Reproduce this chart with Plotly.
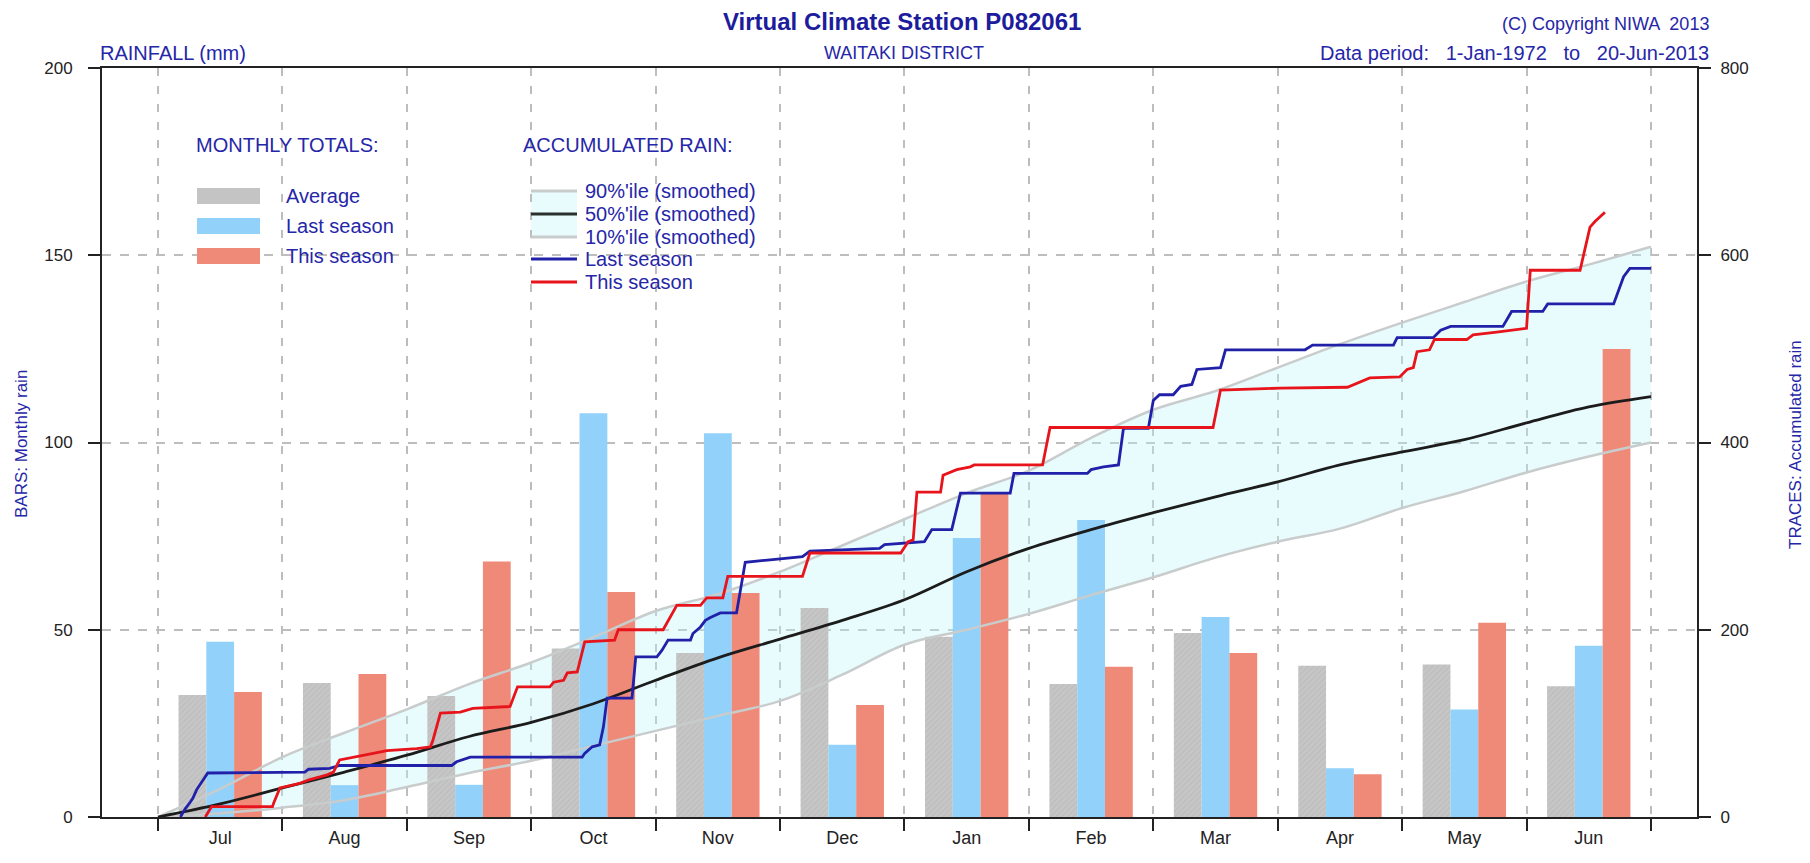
import plotly.graph_objects as go

# ---- monthly totals (mm), season runs July -> June ----
months = ["Jul", "Aug", "Sep", "Oct", "Nov", "Dec", "Jan", "Feb", "Mar", "Apr", "May", "Jun"]
avg_monthly = [32.6, 35.8, 32.3, 45.0, 43.8, 55.8, 48.1, 35.5, 49.1, 40.4, 40.7, 34.9]
last_monthly = [46.8, 8.5, 8.6, 107.8, 102.5, 19.3, 74.5, 79.3, 53.4, 13.0, 28.7, 45.7]
this_monthly = [33.4, 38.2, 68.2, 60.1, 59.8, 29.9, 86.5, 40.1, 43.8, 11.4, 51.9, 125.0]

# ---- smoothed percentiles of accumulated rain (mm), time in months since 1 July ----
pct_t = [0, 0.5, 1, 1.5, 2, 2.5, 3, 3.5, 4, 4.5, 5, 5.5, 6, 6.5, 7, 7.5, 8, 8.5, 9, 9.5, 10, 10.5, 11, 11.5, 12]
p10 = [0, 4, 10, 18, 32, 47, 60, 76, 92, 108, 124, 152, 184, 200, 217, 237, 256, 277, 294, 308, 330, 348, 368, 385, 400]
p50 = [0, 14, 31, 48, 66, 86, 101, 121, 146, 170, 190, 210, 232, 262, 287, 307, 325, 342, 358, 376, 390, 403, 421, 438, 449]
p90 = [0, 30, 64, 90, 115, 142, 165, 192, 220, 238, 262, 290, 318, 346, 370, 405, 435, 455, 480, 505, 528, 550, 572, 590, 609]

# ---- accumulated rain, last season ----
last_t = [0.18, 0.22, 0.26, 0.28, 0.31, 0.35, 0.40, 1.18, 1.21, 1.38, 1.46, 2.36, 2.40, 2.51,
          3.41, 3.43, 3.49, 3.55, 3.58, 3.61, 3.81, 3.84, 4.01, 4.05, 4.10, 4.28, 4.30, 4.36,
          4.40, 4.44, 4.52, 4.65, 4.72, 4.94, 5.18, 5.24, 5.80, 5.84, 6.16, 6.22, 6.38, 6.45,
          6.85, 6.88, 7.47, 7.50, 7.60, 7.72, 7.76, 7.96, 8.00, 8.05, 8.16, 8.22, 8.31, 8.35,
          8.54, 8.58, 9.22, 9.28, 9.93, 9.96, 10.25, 10.31, 10.39, 10.81, 10.88, 11.13, 11.17,
          11.70, 11.78, 11.83, 12.0]
last_acc = [0, 9, 16, 20, 29, 37, 47, 48, 51, 52, 55, 55, 59, 64,
            64, 68, 75, 77, 96, 127, 127, 171, 171, 178, 189, 189, 196, 203,
            210, 213, 218, 218, 272, 275, 278, 284, 287, 291, 294, 307, 307, 346,
            346, 367, 367, 371, 374, 376, 415, 415, 445, 451, 451, 460, 462, 478,
            480, 499, 499, 504, 504, 512, 512, 520, 524, 524, 540, 540, 548,
            548, 577, 586, 586]

# ---- accumulated rain, this season (to 20 June) ----
this_t = [0.38, 0.43, 0.92, 0.93, 0.98, 1.14, 1.22, 1.36, 1.41, 1.46, 1.73, 1.84, 2.08, 2.19,
          2.21, 2.27, 2.43, 2.53, 2.83, 2.89, 3.15, 3.18, 3.26, 3.29, 3.37, 3.43, 3.67, 3.70,
          4.06, 4.17, 4.36, 4.41, 4.54, 4.58, 5.18, 5.24, 5.97, 6.03, 6.07, 6.10, 6.29, 6.31,
          6.42, 6.53, 6.56, 7.11, 7.17, 8.48, 8.54, 9.02, 9.56, 9.66, 9.74, 9.98, 10.04, 10.09,
          10.12, 10.22, 10.26, 10.52, 10.57, 10.76, 11.00, 11.03, 11.43, 11.51, 11.55, 11.63]
this_acc = [0, 11, 11, 15, 31, 36, 40, 45, 48, 61, 68, 71, 73, 75,
            82, 111, 112, 116, 118, 139, 139, 144, 146, 154, 155, 187, 189, 200,
            200, 226, 226, 234, 234, 257, 257, 282, 282, 294, 296, 347, 347, 365,
            371, 374, 376, 376, 416, 416, 456, 458, 459, 465, 469, 470, 478, 480,
            497, 499, 510, 510, 515, 518, 522, 584, 584, 630, 636, 646]

month_centres = [i + 0.5 for i in range(len(months))]

FONT = "Liberation Sans, Arial, Helvetica, sans-serif"
BLUE_TXT = "#2626a8"
W, H = 1810, 863
L, R, T, B = 102, 113, 68, 46


def px(x):
    return (x - L) / (W - L - R)


def py(y):
    return (H - B - y) / (H - T - B)


fig = go.Figure()

# shaded 10%-90% band (drawn beneath the bars)
fig.add_trace(go.Scatter(x=pct_t, y=p10, mode="lines", line=dict(width=0, shape="spline"),
                         yaxis="y", hoverinfo="skip", showlegend=False))
fig.add_trace(go.Scatter(x=pct_t, y=p90, mode="lines", line=dict(width=0, shape="spline"),
                         fill="tonexty", fillcolor="rgba(190,245,250,0.34)",
                         yaxis="y", hoverinfo="skip", showlegend=False))

# monthly bars
fig.add_trace(go.Bar(x=month_centres, y=avg_monthly, name="Average", yaxis="y2",
                     marker=dict(color="#c4c4c4", line=dict(width=0),
                                 pattern=dict(shape="/", fgcolor="#adadad", bgcolor="#c6c6c6",
                                              size=4, solidity=0.25))))
fig.add_trace(go.Bar(x=month_centres, y=last_monthly, name="Last season", yaxis="y2",
                     marker=dict(color="#92d1fa", line=dict(width=0))))
fig.add_trace(go.Bar(x=month_centres, y=this_monthly, name="This season", yaxis="y2",
                     marker=dict(color="#ef8a79", line=dict(width=0))))

# accumulated traces
fig.add_trace(go.Scatter(x=pct_t, y=p90, mode="lines", yaxis="y3", name="90%'ile (smoothed)",
                         line=dict(color="#c9cccc", width=2.5, shape="spline")))
fig.add_trace(go.Scatter(x=pct_t, y=p10, mode="lines", yaxis="y3", name="10%'ile (smoothed)",
                         line=dict(color="#c9cccc", width=2.5, shape="spline")))
fig.add_trace(go.Scatter(x=pct_t, y=p50, mode="lines", yaxis="y3", name="50%'ile (smoothed)",
                         line=dict(color="#1c1c1c", width=2.8, shape="spline")))
fig.add_trace(go.Scatter(x=last_t, y=last_acc, mode="lines", yaxis="y3", name="Last season",
                         line=dict(color="#2020a8", width=2.8)))
fig.add_trace(go.Scatter(x=this_t, y=this_acc, mode="lines", yaxis="y3", name="This season",
                         line=dict(color="#e8141c", width=2.8)))

tickfont = dict(family=FONT, size=17, color="#222222")

fig.update_layout(
    width=W, height=H,
    margin=dict(l=L, r=R, t=T, b=B, pad=0),
    paper_bgcolor="white", plot_bgcolor="white",
    showlegend=False,
    barmode="group", bargap=0.33, bargroupgap=0.0,
    font=dict(family=FONT),
    xaxis=dict(
        range=[-0.450, 12.37], automargin=False,
        tickmode="array", tickvals=month_centres, ticktext=months, ticks="",
        tickfont=dict(family=FONT, size=18, color="#222222"), ticklabelstandoff=3,
        showgrid=False, zeroline=False,
        showline=True, linecolor="#222222", linewidth=2, mirror=True,
        minor=dict(tickmode="linear", tick0=0, dtick=1, ticks="outside", ticklen=12,
                   tickwidth=2, tickcolor="#222222", showgrid=True,
                   gridcolor="#bdbdbd", gridwidth=1.5, griddash="8px,10px"),
    ),
    yaxis=dict(
        range=[0, 800], side="right", automargin=False,
        tickmode="array", tickvals=[0, 200, 400, 600, 800],
        ticks="outside", ticklen=12, tickwidth=2, tickcolor="#222222",
        tickfont=tickfont, ticklabelstandoff=6,
        showline=True, linecolor="#222222", linewidth=2,
        showgrid=True, gridcolor="#bdbdbd", gridwidth=1.5, griddash="9px,9px",
        zeroline=False,
    ),
    yaxis2=dict(
        range=[0, 200], side="left", overlaying="y", automargin=False,
        tickmode="array", tickvals=[0, 50, 100, 150, 200],
        ticks="outside", ticklen=12, tickwidth=2, tickcolor="#222222",
        tickfont=tickfont, ticklabelstandoff=12,
        showline=True, linecolor="#222222", linewidth=2,
        showgrid=False, zeroline=False,
    ),
    yaxis3=dict(range=[0, 800], overlaying="y", visible=False),
)

# ---- headings ----
ann = []
ann.append(dict(text="<b>Virtual Climate Station P082061</b>", x=px(902), y=py(22),
                font=dict(size=24, color="#1c1c9c"), xanchor="center", yanchor="middle"))
ann.append(dict(text="(C) Copyright NIWA  2013", x=px(1711), y=py(24),
                font=dict(size=18, color=BLUE_TXT), xanchor="right", yanchor="middle"))
ann.append(dict(text="RAINFALL (mm)", x=px(98), y=py(53),
                font=dict(size=20, color=BLUE_TXT), xanchor="left", yanchor="middle"))
ann.append(dict(text="WAITAKI DISTRICT", x=px(904), y=py(53),
                font=dict(size=18, color=BLUE_TXT), xanchor="center", yanchor="middle"))
ann.append(dict(text="Data period:   1-Jan-1972   to   20-Jun-2013", x=px(1711), y=py(53),
                font=dict(size=20, color=BLUE_TXT), xanchor="right", yanchor="middle"))
ann.append(dict(text="BARS: Monthly rain", x=px(21), y=py(444), textangle=-90,
                font=dict(size=17, color=BLUE_TXT), xanchor="center", yanchor="middle"))
ann.append(dict(text="TRACES: Accumulated rain", x=px(1795), y=py(444), textangle=-90,
                font=dict(size=17, color=BLUE_TXT), xanchor="center", yanchor="middle"))

# ---- hand-drawn key ----
shapes = []
ann.append(dict(text="MONTHLY TOTALS:", x=px(194), y=py(145),
                font=dict(size=20, color=BLUE_TXT), xanchor="left", yanchor="middle"))
ann.append(dict(text="ACCUMULATED RAIN:", x=px(521), y=py(145),
                font=dict(size=20, color=BLUE_TXT), xanchor="left", yanchor="middle"))

bar_keys = [("Average", "#c4c4c4", 196), ("Last season", "#92d1fa", 226), ("This season", "#ef8a79", 256)]
for label, colour, yc in bar_keys:
    shapes.append(dict(type="rect", xref="paper", yref="paper",
                       x0=px(197), x1=px(260), y0=py(yc + 8), y1=py(yc - 8),
                       fillcolor=colour, line=dict(width=0), layer="above"))
    ann.append(dict(text=label, x=px(284), y=py(yc), font=dict(size=20, color=BLUE_TXT),
                    xanchor="left", yanchor="middle"))

shapes.append(dict(type="rect", xref="paper", yref="paper",
                   x0=px(531), x1=px(577), y0=py(238), y1=py(190),
                   fillcolor="rgba(190,245,250,0.34)", line=dict(width=0), layer="below"))
line_keys = [("90%'ile (smoothed)", "#c9cccc", 191), ("50%'ile (smoothed)", "#2a302c", 214),
             ("10%'ile (smoothed)", "#c9cccc", 237), ("Last season", "#2020a8", 259),
             ("This season", "#e8141c", 282)]
for label, colour, yc in line_keys:
    shapes.append(dict(type="line", xref="paper", yref="paper",
                       x0=px(531), x1=px(577), y0=py(yc), y1=py(yc),
                       line=dict(color=colour, width=3), layer="above"))
    ann.append(dict(text=label, x=px(583), y=py(yc), font=dict(size=20, color=BLUE_TXT),
                    xanchor="left", yanchor="middle"))

for a in ann:
    a.update(xref="paper", yref="paper", showarrow=False)
    a["font"]["family"] = FONT

fig.update_layout(annotations=ann, shapes=shapes)

fig.write_html("out.html")
